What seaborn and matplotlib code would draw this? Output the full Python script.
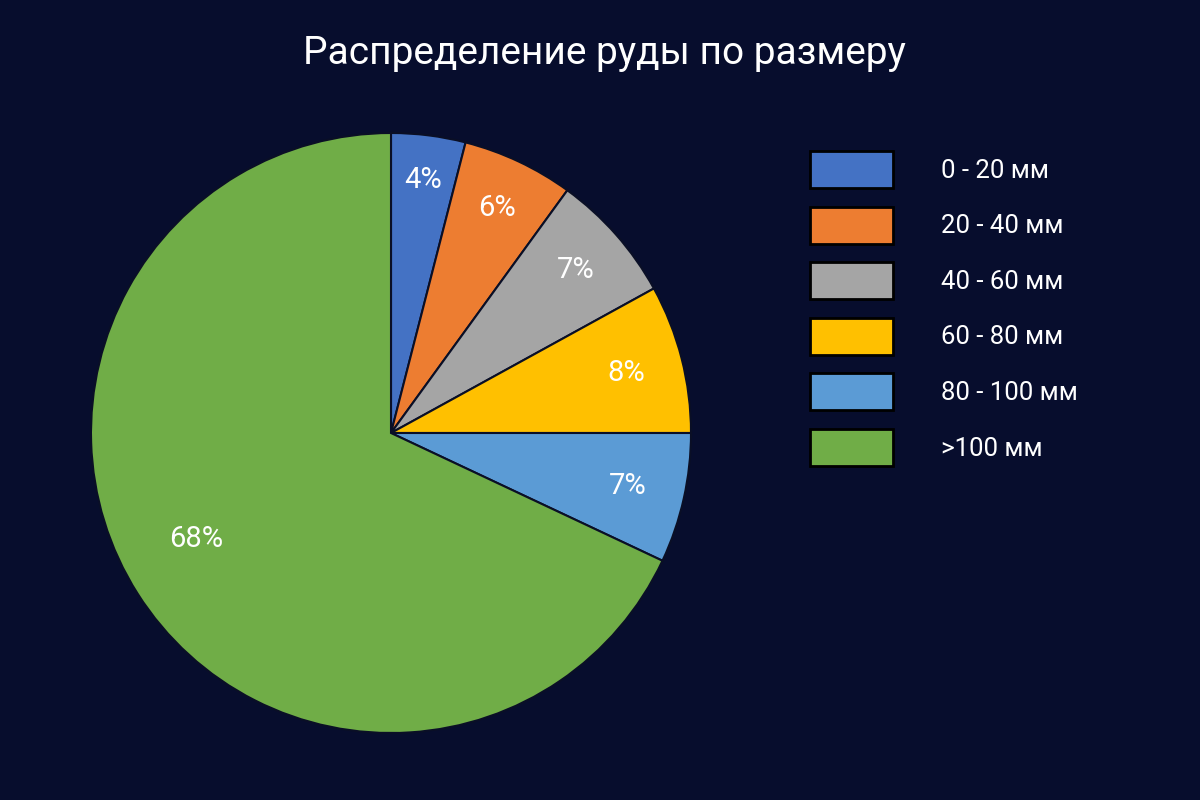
import numpy as np
import matplotlib
matplotlib.use("Agg")
import matplotlib.pyplot as plt
import seaborn as sns

# Данные
categories = ['0 - 20 мм', '20 - 40 мм', '40 - 60 мм', '60 - 80 мм', '80 - 100 мм', '>100 мм']
shares = [4, 6, 7, 8, 7, 68]
colors = ['#4472C4', '#ED7D31', '#A5A5A5', '#FFC000', '#5B9BD5', '#70AD47']
label_dist = [0.85, 0.83, 0.82, 0.81, 0.81, 0.74]

bg = '#070D2D'

sns.set_theme(style='dark')
plt.rcParams['font.family'] = ['Roboto', 'DejaVu Sans']

fig = plt.figure(figsize=(12, 8), dpi=100, facecolor=bg)
ax = fig.add_axes([91 / 1200, (800 - 433 - 300) / 800, 600 / 1200, 600 / 800])
ax.set_facecolor(bg)

wedges, texts = ax.pie(shares, colors=colors, startangle=90, counterclock=False,
                       radius=1, wedgeprops=dict(edgecolor='#0A0F26', linewidth=1.5))

# Подписи процентов внутри секторов
for w, d, v in zip(wedges, label_dist, shares):
    ang = np.deg2rad((w.theta1 + w.theta2) / 2)
    if v == 68:
        ang -= np.deg2rad(4)
    ax.text(d * np.cos(ang), d * np.sin(ang), f'{v}%', ha='center', va='center',
            color='white', fontsize=21)

ax.set_xlim(-1, 1)
ax.set_ylim(-1, 1)
ax.set_aspect('equal')
ax.axis('off')

fig.text(0.504, 0.933, 'Распределение руды по размеру', ha='center', va='center',
         color='white', fontsize=28)

leg = fig.legend(wedges, categories, loc='upper left', bbox_to_anchor=(0.656, 0.84),
                 frameon=False, fontsize=18.5, handlelength=3.2, handleheight=1.84,
                 handletextpad=1.9, labelspacing=0.72, labelcolor='white')
for h in leg.legend_handles:
    h.set_edgecolor('black')
    h.set_linewidth(2)

fig.savefig('out.png', dpi=100, facecolor=bg)
